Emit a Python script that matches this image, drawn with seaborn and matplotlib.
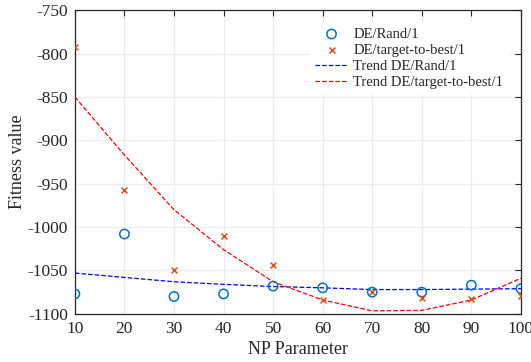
import seaborn as sns
import numpy as np
import matplotlib.pyplot as plt

# Data #

NP = [10, 20, 30, 40, 50, 60, 70, 80, 90, 100]
RAND1 = [-1077, -1008, -1080, -1077, -1068, -1070, -1075, -1075, -1067, -1071]
TTB1 = [-792, -957, -1049, -1010, -1044, -1084, -1075, -1082, -1083, -1080]
TREND_RAND1 = [-1053, -1058, -1063, -1066, -1068.5, -1070, -1072, -1072, -1071.5, -1071]
TREND_TTB1 = [-850, -917, -980, -1026, -1063, -1084, -1096.5, -1096, -1084, -1059]

YTICKS = [-1100, -1050, -1000, -950, -900, -850, -800, -750]


# Main #

sns.set_style("white")
plt.rcParams['font.family'] = ['Liberation Serif', 'DejaVu Serif']
plt.rcParams['axes.unicode_minus'] = False

fig = plt.figure(figsize=(5.31, 3.62), dpi=100)
ax = fig.add_axes([0.141, 0.133, 0.840, 0.839])

sns.scatterplot(x=NP, y=RAND1, ax=ax, marker="o", s=45, facecolors="none",
                edgecolor="#0072BD", linewidth=1.1, label="DE/Rand/1", zorder=4)
sns.scatterplot(x=NP, y=TTB1, ax=ax, marker="x", s=18, color="#D95319",
                linewidth=1.1, label="DE/target-to-best/1", zorder=4)
sns.lineplot(x=NP, y=TREND_RAND1, ax=ax, color="blue", linestyle="--",
             linewidth=0.9, label="Trend DE/Rand/1", zorder=3)
sns.lineplot(x=NP, y=TREND_TTB1, ax=ax, color="red", linestyle="--",
             linewidth=0.9, label="Trend DE/target-to-best/1", zorder=3)

ax.set_xlim(10, 100)
ax.set_ylim(-1100, -750)
ax.set_xticks(NP)
ax.set_yticks(YTICKS)
ax.grid(True, color="#ebebeb", linewidth=0.9)
ax.set_axisbelow(True)
for s in ax.spines.values():
    s.set_color("#262626")
    s.set_linewidth(0.9)
ax.tick_params(direction="in", length=4, width=0.8, colors="#262626",
               labelsize=12.5, top=True, right=True, pad=5)
ax.set_xlabel("NP Parameter", fontsize=13, color="#262626", labelpad=3)
ax.set_ylabel("Fitness value", fontsize=13, color="#262626", labelpad=1)

leg = ax.legend(loc="upper right", frameon=True, fontsize=10.5, handlelength=2.2,
                borderaxespad=0.8, labelspacing=0.2, handletextpad=0.4)
leg.get_frame().set_edgecolor("none")
leg.get_frame().set_facecolor("white")
leg.get_frame().set_alpha(1)

plt.savefig("out.png", dpi=100)
